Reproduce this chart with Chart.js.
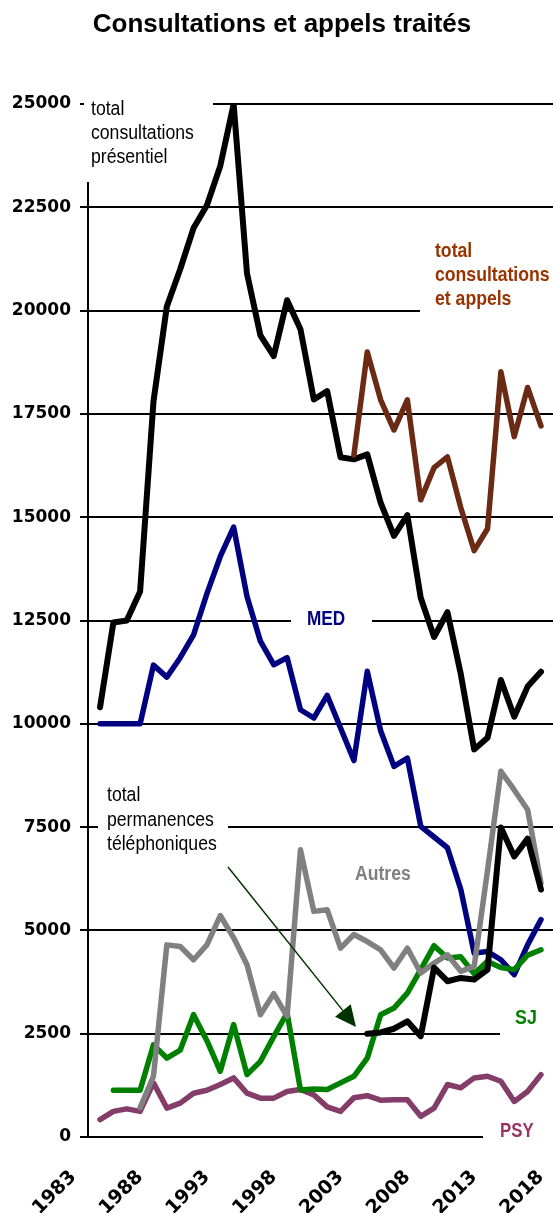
<!DOCTYPE html>
<html>
<head>
<meta charset="utf-8">
<script src="https://cdn.jsdelivr.net/npm/chart.js@4.4.1/dist/chart.umd.min.js"></script>
<style>
  html, body { margin: 0; padding: 0; background: #ffffff; }
  #wrap { width: 553px; height: 1213px; position: relative; }
</style>
</head>
<body>
<div id="wrap"><canvas id="chart"></canvas></div>
<script>
// Years covered by the series (one value per year, null where a series has no data)
const years = [1985, 1986, 1987, 1988, 1989, 1990, 1991, 1992, 1993, 1994,
               1995, 1996, 1997, 1998, 1999, 2000, 2001, 2002, 2003, 2004,
               2005, 2006, 2007, 2008, 2009, 2010, 2011, 2012, 2013, 2014,
               2015, 2016, 2017, 2018];

// Year labels shown under the horizontal axis
const tickYears = [1983, 1988, 1993, 1998, 2003, 2008, 2013, 2018];

// Total consultations (in person)
const presentiel = [10400, 12450, 12500, 13200, 17800, 20100, 21000, 22000, 22550, 23500,
                    25000, 20900, 19400, 18900, 20250, 19550, 17850, 18050, 16450, 16400,
                    16520, 15350, 14550, 15050, 13050, 12100, 12700, 11200, 9380, 9660,
                    11060, 10170, 10900, 11260];

// Total telephone duty calls
const permanences = [null, null, null, null, null, null, null, null, null, null,
                     null, null, null, null, null, null, null, null, null, null,
                     2500, 2530, 2620, 2800, 2440, 4100, 3770, 3850, 3810, 4050,
                     7490, 6790, 7220, 5990];

// Total consultations and calls
const totalAppels = [null, null, null, null, null, null, null, null, null, null,
                     null, null, null, null, null, null, null, null, null, 16500,
                     19000, 17840, 17110, 17840, 15420, 16200, 16460, 15230, 14190, 14720,
                     18520, 16950, 18140, 17210];

// MED
const med = [10000, 10000, 10000, 10000, 11420, 11130, 11600, 12150, 13150, 14050,
             14760, 13080, 12000, 11430, 11600, 10340, 10140, 10690, 9900, 9110,
             11270, 9830, 8970, 9170, 7520, 7260, 7000, 5990, 4450, 4490,
             4290, 3930, 4650, 5260];

// Autres
const autres = [null, null, null, 710, 1470, 4650, 4610, 4290, 4650, 5360,
                4820, 4170, 2960, 3470, 2920, 6950, 5460, 5500, 4570, 4900,
                4730, 4530, 4090, 4570, 3970, 4210, 4410, 4010, 4130, 6450,
                8850, 8400, 7920, 6150];

// SJ
const sj = [null, 1130, 1130, 1130, 2230, 1910, 2100, 2960, 2330, 1590,
            2720, 1510, 1830, 2430, 3000, 1140, 1160, 1150, 1310, 1470,
            1910, 2960, 3120, 3480, 4050, 4630, 4330, 4360, 3950, 4250,
            4100, 4050, 4400, 4530];

// PSY
const psy = [420, 620, 680, 620, 1310, 700, 820, 1060, 1130, 1270,
             1430, 1060, 940, 940, 1100, 1150, 1020, 730, 620, 950,
             1000, 890, 900, 900, 500, 700, 1270, 1190, 1430, 1470,
             1350, 860, 1100, 1510];

function points(values) {
  const out = [];
  values.forEach((v, i) => { if (v !== null) out.push({ x: years[i], y: v }); });
  return out;
}

function lineSet(label, values, color, width) {
  return {
    label: label,
    data: points(values),
    borderColor: color,
    backgroundColor: color,
    borderWidth: width,
    pointRadius: 0,
    pointHoverRadius: 0,
    tension: 0,
    fill: false,
    borderJoinStyle: 'round',
    borderCapStyle: 'round'
  };
}

const SANS = '"Liberation Sans", Arial, sans-serif';

function drawText(ctx, str, x, y, font, color, sx, align) {
  ctx.save();
  ctx.translate(x, y);
  ctx.scale(sx, 1);
  ctx.font = font;
  ctx.fillStyle = color;
  ctx.textAlign = align || 'left';
  ctx.textBaseline = 'alphabetic';
  ctx.fillText(str, 0, 0);
  ctx.restore();
}

// Series names written inside the plot, each on a white patch that hides the grid behind it
const annotations = [
  { box: [84, 90, 129, 92], lines: ['total', 'consultations', 'présentiel'], x: 91, y: 115, step: 24,
    font: '20.5px ' + SANS, color: '#000000', sx: 0.86 },
  { box: [420, 234, 133, 84], lines: ['total', 'consultations', 'et appels'], x: 435, y: 257, step: 24,
    font: 'bold 20.5px ' + SANS, color: '#993300', sx: 0.86 },
  { box: [291, 604, 81, 28], lines: ['MED'], x: 307, y: 625, step: 0,
    font: 'bold 20.5px ' + SANS, color: '#000080', sx: 0.84 },
  { box: [98, 782, 130, 76], lines: ['total', 'permanences', 'téléphoniques'], x: 107, y: 801, step: 24.5,
    font: '20.5px ' + SANS, color: '#000000', sx: 0.86 },
  { box: [348, 860, 70, 26], lines: ['Autres'], x: 355, y: 880, step: 0,
    font: 'bold 20px ' + SANS, color: '#808080', sx: 0.88 },
  { box: [500, 1000, 53, 40], lines: ['SJ'], x: 515, y: 1024, step: 0,
    font: 'bold 20.5px ' + SANS, color: '#008000', sx: 0.87 },
  { box: [483, 1114, 70, 36], lines: ['PSY'], x: 500, y: 1137, step: 0,
    font: 'bold 20.5px ' + SANS, color: '#993366', sx: 0.82 }
];

const decorations = {
  id: 'decorations',
  beforeDatasetsDraw(chart) {
    const ctx = chart.ctx;
    ctx.save();
    ctx.fillStyle = '#ffffff';
    annotations.forEach(a => ctx.fillRect(a.box[0], a.box[1], a.box[2], a.box[3]));
    ctx.restore();
    annotations.forEach(a => {
      a.lines.forEach((t, i) => drawText(ctx, t, a.x, a.y + i * a.step, a.font, a.color, a.sx));
    });
  },
  afterDatasetsDraw(chart) {
    const ctx = chart.ctx;
    // arrow from the telephone label to its line
    const sx = 228, sy = 867, tx = 356, ty = 1027;
    const dx = tx - sx, dy = ty - sy, len = Math.hypot(dx, dy);
    const ux = dx / len, uy = dy / len;
    const head = 21, half = 10;
    const bx = tx - ux * head, by = ty - uy * head;
    ctx.save();
    ctx.strokeStyle = '#003300';
    ctx.fillStyle = '#003300';
    ctx.lineWidth = 1.5;
    ctx.beginPath();
    ctx.moveTo(sx, sy);
    ctx.lineTo(bx, by);
    ctx.stroke();
    ctx.beginPath();
    ctx.moveTo(tx, ty);
    ctx.lineTo(bx - uy * half, by + ux * half);
    ctx.lineTo(bx + uy * half, by - ux * half);
    ctx.closePath();
    ctx.fill();
    ctx.restore();
  },
  afterDraw(chart) {
    drawText(chart.ctx, 'Consultations et appels traités', 282, 32,
             'bold 26px ' + SANS, '#000000', 1, 'center');
  }
};

new Chart(document.getElementById('chart'), {
  type: 'line',
  data: {
    datasets: [
      lineSet('total consultations et appels', totalAppels, '#6b2a14', 5.5),
      lineSet('total consultations présentiel', presentiel, '#000000', 6),
      lineSet('total permanences téléphoniques', permanences, '#000000', 6),
      lineSet('Autres', autres, '#808080', 5.5),
      lineSet('SJ', sj, '#008000', 5.5),
      lineSet('PSY', psy, '#843c69', 5.5),
      lineSet('MED', med, '#000080', 5.5)
    ]
  },
  options: {
    responsive: true,
    maintainAspectRatio: false,
    animation: false,
    devicePixelRatio: 1,
    layout: { padding: { top: 104, left: 0, right: 0, bottom: 0 } },
    plugins: { legend: { display: false }, tooltip: { enabled: false }, title: { display: false } },
    events: [],
    scales: {
      x: {
        type: 'linear',
        min: 1984.1,
        max: 2018.9,
        grid: { display: false, drawTicks: false },
        border: { display: false },
        ticks: {
          autoSkip: false,
          minRotation: 45,
          maxRotation: 45,
          padding: 29,
          color: '#000000',
          font: { family: '"DejaVu Sans"', weight: 'bold', size: 19 },
          callback: v => String(v)
        },
        afterBuildTicks(scale) { scale.ticks = tickYears.map(v => ({ value: v })); },
        afterFit(scale) { scale.height = 76; scale.paddingLeft = 0; scale.paddingRight = 0; }
      },
      y: {
        min: 0,
        max: 25000,
        ticks: {
          stepSize: 2500,
          padding: 9,
          color: '#000000',
          font: { family: '"DejaVu Sans"', weight: 'bold', size: 17 },
          callback: v => String(v)
        },
        grid: { color: '#000000', lineWidth: 2, tickLength: 8, drawTicks: true },
        border: { display: true, color: '#000000', width: 2 },
        afterFit(scale) { scale.width = 88; }
      }
    }
  },
  plugins: [decorations]
});
</script>
</body>
</html>
